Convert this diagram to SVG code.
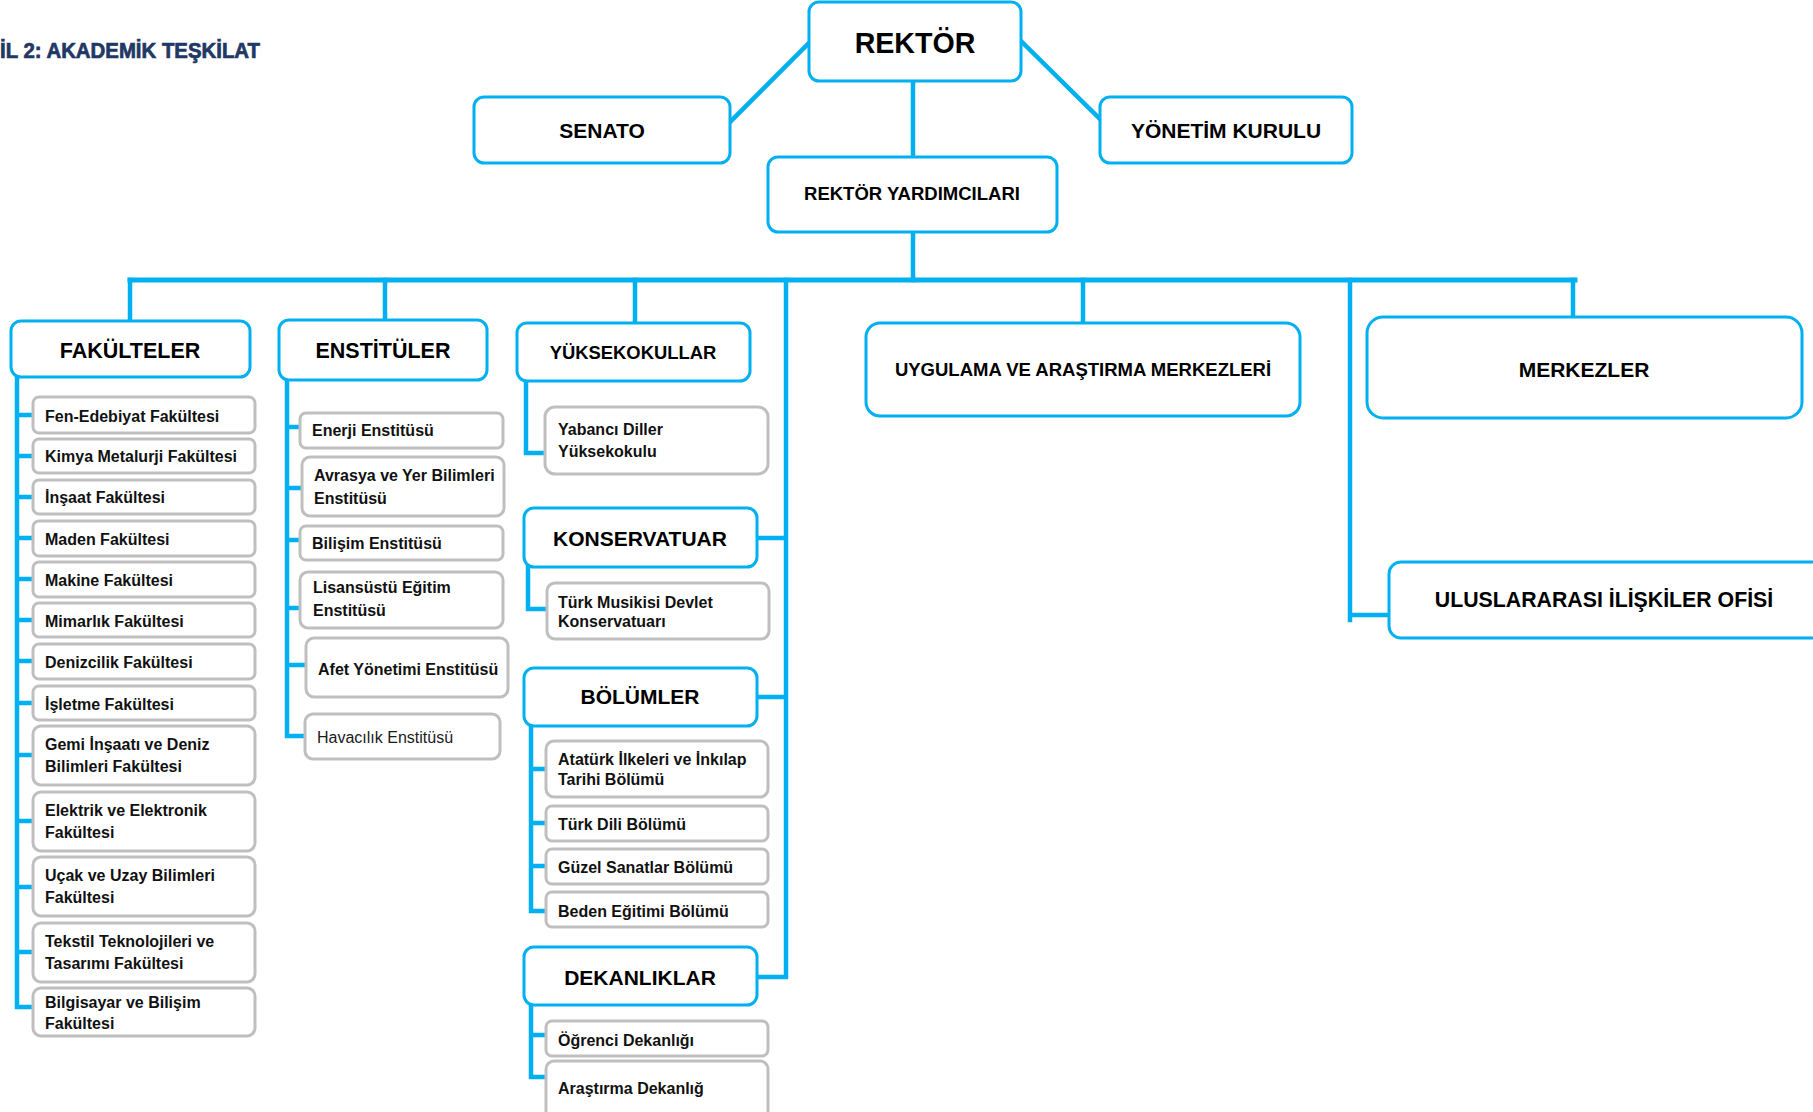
<svg xmlns="http://www.w3.org/2000/svg" width="1813" height="1112" viewBox="0 0 1813 1112">
<style>
text{font-family:"Liberation Sans",Arial,sans-serif;fill:#000}
.hb{fill:#fff;stroke:#00B0F0;stroke-width:3}
.ib{fill:#fff;stroke:#BFBFBF;stroke-width:3}
.h{font-weight:bold;font-size:21px;text-anchor:middle}
.i{font-weight:bold;font-size:16px;fill:#111}
.c{fill:none;stroke:#00B0F0;stroke-width:4.5;stroke-linecap:square;stroke-linejoin:miter}
.title{font-weight:bold;font-size:21.5px;fill:#1F3864;stroke:#1F3864;stroke-width:0.7}
</style>
<rect width="1813" height="1112" fill="#fff"/>
<text class="title" x="0" y="58" textLength="260" lengthAdjust="spacingAndGlyphs">İL 2: AKADEMİK TEŞKİLAT</text>

<g id="connectors">
<path class="c" d="M810 42 L730 122"/>
<path class="c" d="M1022 42 L1100 119"/>
<path class="c" d="M913 81 V157"/>
<path class="c" d="M913 232 V280"/>
<path class="c" style="stroke-width:5" d="M130 280 H1575"/>
<path class="c" d="M130 280 V321"/>
<path class="c" d="M385 280 V320"/>
<path class="c" d="M635 280 V323"/>
<path class="c" d="M1083 280 V323"/>
<path class="c" d="M1573 280 V317"/>
<path class="c" d="M1350 280 V620 M1350 615 H1389"/>
<path class="c" d="M786 280 V977 H757 M786 697 H757 M786 538 H757"/>
<path class="c" d="M17 377 V1007 H32 M17 415 H32 M17 456 H32 M17 497 H32 M17 538 H32 M17 579 H32 M17 620 H32 M17 661 H32 M17 703 H32 M17 755 H32 M17 821 H32 M17 887 H32 M17 952 H32"/>
<path class="c" d="M287 380 V736 H305 M287 427 H300 M287 488 H302 M287 540 H300 M287 608 H300 M287 665 H306"/>
<path class="c" d="M526 381 V453 H545"/>
<path class="c" d="M528 567 V609 H547"/>
<path class="c" d="M531 726 V911 H546 M531 769 H546 M531 823 H546 M531 866 H546"/>
<path class="c" d="M531 1005 V1077 H546 M531 1035 H546"/>
</g>

<g id="rektor"><rect class="hb" x="809" y="2" width="212" height="79" rx="10"/><text class="h" x="915" y="53" style="font-size:28.6px">REKTÖR</text></g>
<g id="senato"><rect class="hb" x="474" y="97" width="256" height="66" rx="10"/><text class="h" x="602" y="138">SENATO</text></g>
<g id="yonetim"><rect class="hb" x="1100" y="97" width="252" height="66" rx="10"/><text class="h" x="1226" y="138">YÖNETİM KURULU</text></g>
<g id="yardimcilari"><rect class="hb" x="768" y="157" width="289" height="75" rx="10"/><text class="h" x="912" y="200" style="font-size:18.5px">REKTÖR YARDIMCILARI</text></g>

<g id="fakulteler"><rect class="hb" x="11" y="321" width="239" height="56" rx="10"/><text class="h" x="130" y="358" style="font-size:21.5px">FAKÜLTELER</text></g>
<g id="enstituler"><rect class="hb" x="279" y="320" width="208" height="60" rx="10"/><text class="h" x="383" y="358" style="font-size:21.5px">ENSTİTÜLER</text></g>
<g id="yuksekokullar"><rect class="hb" x="517" y="323" width="233" height="58" rx="10"/><text class="h" x="633" y="359" style="font-size:18.4px">YÜKSEKOKULLAR</text></g>
<g id="konservatuar"><rect class="hb" x="524" y="508" width="233" height="59" rx="10"/><text class="h" x="640" y="546">KONSERVATUAR</text></g>
<g id="bolumler"><rect class="hb" x="524" y="668" width="233" height="58" rx="10"/><text class="h" x="640" y="704">BÖLÜMLER</text></g>
<g id="dekanliklar"><rect class="hb" x="524" y="947" width="233" height="58" rx="10"/><text class="h" x="640" y="985">DEKANLIKLAR</text></g>
<g id="uygulama"><rect class="hb" x="866" y="323" width="434" height="93" rx="14"/><text class="h" x="1083" y="376" style="font-size:18.5px">UYGULAMA VE ARAŞTIRMA MERKEZLERİ</text></g>
<g id="merkezler"><rect class="hb" x="1367" y="317" width="435" height="101" rx="16"/><text class="h" x="1584" y="377">MERKEZLER</text></g>
<g id="uluslararasi"><rect class="hb" x="1389" y="562" width="440" height="76" rx="12"/><text class="h" x="1604" y="607" style="font-size:21.3px">ULUSLARARASI İLİŞKİLER OFİSİ</text></g>

<g id="fen"><rect class="ib" x="33" y="397" width="222" height="36" rx="6"/><text class="i" x="45" y="422">Fen-Edebiyat Fakültesi</text></g>
<g id="kimya"><rect class="ib" x="33" y="439" width="222" height="34" rx="6"/><text class="i" x="45" y="462">Kimya Metalurji Fakültesi</text></g>
<g id="insaat"><rect class="ib" x="33" y="480" width="222" height="34" rx="6"/><text class="i" x="45" y="503">İnşaat Fakültesi</text></g>
<g id="maden"><rect class="ib" x="33" y="521" width="222" height="35" rx="6"/><text class="i" x="45" y="545">Maden Fakültesi</text></g>
<g id="makine"><rect class="ib" x="33" y="562" width="222" height="35" rx="6"/><text class="i" x="45" y="586">Makine Fakültesi</text></g>
<g id="mimarlik"><rect class="ib" x="33" y="603" width="222" height="34" rx="6"/><text class="i" x="45" y="627">Mimarlık Fakültesi</text></g>
<g id="denizcilik"><rect class="ib" x="33" y="644" width="222" height="35" rx="6"/><text class="i" x="45" y="668">Denizcilik Fakültesi</text></g>
<g id="isletme"><rect class="ib" x="33" y="686" width="222" height="34" rx="6"/><text class="i" x="45" y="710">İşletme Fakültesi</text></g>
<g id="gemi"><rect class="ib" x="33" y="726" width="222" height="59" rx="8"/><text class="i" x="45" y="750">Gemi İnşaatı ve Deniz</text><text class="i" x="45" y="772">Bilimleri Fakültesi</text></g>
<g id="elektrik"><rect class="ib" x="33" y="792" width="222" height="59" rx="8"/><text class="i" x="45" y="816">Elektrik ve Elektronik</text><text class="i" x="45" y="838">Fakültesi</text></g>
<g id="ucak"><rect class="ib" x="33" y="857" width="222" height="59" rx="8"/><text class="i" x="45" y="881">Uçak ve Uzay Bilimleri</text><text class="i" x="45" y="903">Fakültesi</text></g>
<g id="tekstil"><rect class="ib" x="33" y="923" width="222" height="59" rx="8"/><text class="i" x="45" y="947">Tekstil Teknolojileri ve</text><text class="i" x="45" y="969">Tasarımı Fakültesi</text></g>
<g id="bilgisayar"><rect class="ib" x="33" y="988" width="222" height="48" rx="8"/><text class="i" x="45" y="1008">Bilgisayar ve Bilişim</text><text class="i" x="45" y="1029">Fakültesi</text></g>

<g id="enerji"><rect class="ib" x="300" y="413" width="203" height="35" rx="6"/><text class="i" x="312" y="436">Enerji Enstitüsü</text></g>
<g id="avrasya"><rect class="ib" x="302" y="457" width="202" height="59" rx="8"/><text class="i" x="314" y="481">Avrasya ve Yer Bilimleri</text><text class="i" x="314" y="504">Enstitüsü</text></g>
<g id="bilisim"><rect class="ib" x="300" y="526" width="203" height="34" rx="6"/><text class="i" x="312" y="549">Bilişim Enstitüsü</text></g>
<g id="lisansustu"><rect class="ib" x="300" y="572" width="203" height="56" rx="8"/><text class="i" x="313" y="593">Lisansüstü Eğitim</text><text class="i" x="313" y="616">Enstitüsü</text></g>
<g id="afet"><rect class="ib" x="306" y="638" width="202" height="59" rx="8"/><text class="i" x="318" y="675">Afet Yönetimi Enstitüsü</text></g>
<g id="havacilik"><rect class="ib" x="305" y="714" width="195" height="45" rx="8"/><text x="317" y="743" style="font-size:16px;fill:#1a1a1a">Havacılık Enstitüsü</text></g>

<g id="yabanci"><rect class="ib" x="545" y="407" width="223" height="67" rx="10"/><text class="i" x="558" y="435">Yabancı Diller</text><text class="i" x="558" y="457">Yüksekokulu</text></g>
<g id="musiki"><rect class="ib" x="547" y="583" width="222" height="56" rx="8"/><text class="i" x="558" y="608">Türk Musikisi Devlet</text><text class="i" x="558" y="627">Konservatuarı</text></g>
<g id="ataturk"><rect class="ib" x="546" y="741" width="222" height="56" rx="8"/><text class="i" x="558" y="765">Atatürk İlkeleri ve İnkılap</text><text class="i" x="558" y="785">Tarihi Bölümü</text></g>
<g id="turkdili"><rect class="ib" x="546" y="806" width="222" height="35" rx="6"/><text class="i" x="558" y="830">Türk Dili Bölümü</text></g>
<g id="guzel"><rect class="ib" x="546" y="849" width="222" height="35" rx="6"/><text class="i" x="558" y="873">Güzel Sanatlar Bölümü</text></g>
<g id="beden"><rect class="ib" x="546" y="892" width="222" height="35" rx="6"/><text class="i" x="558" y="917">Beden Eğitimi Bölümü</text></g>
<g id="ogrenci"><rect class="ib" x="546" y="1021" width="222" height="35" rx="6"/><text class="i" x="558" y="1046">Öğrenci Dekanlığı</text></g>
<g id="arastirma"><rect class="ib" x="546" y="1061" width="222" height="60" rx="8"/><text class="i" x="558" y="1094">Araştırma Dekanlığ</text></g>
</svg>
